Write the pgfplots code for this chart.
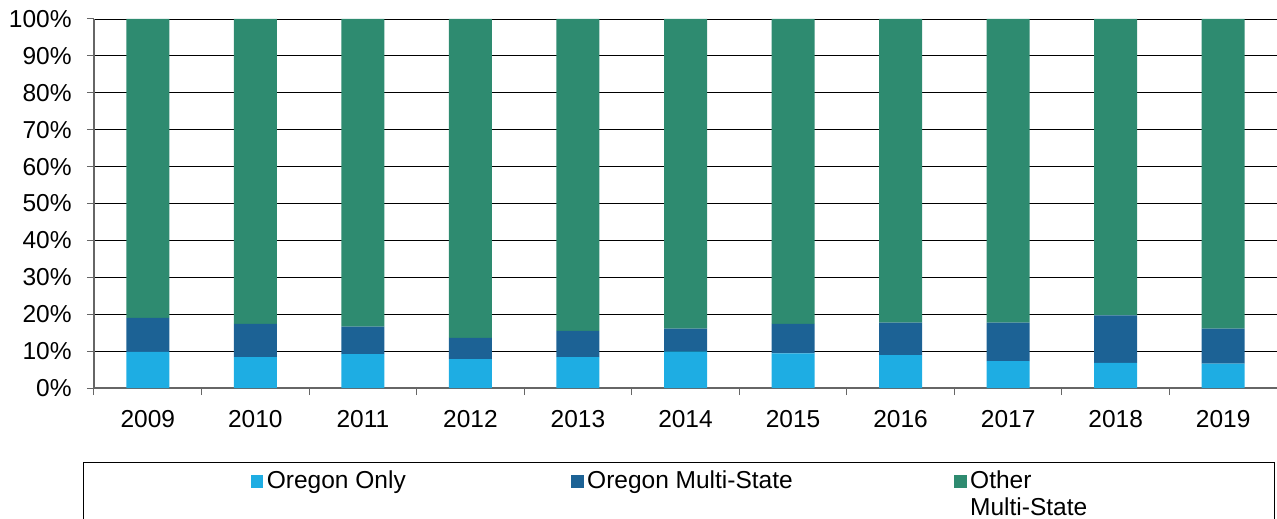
\documentclass[border=0pt]{standalone}
\usepackage{pgfplots}
\pgfplotsset{compat=1.18}
\usepackage{fontspec}
\setmainfont{Liberation Sans}
\definecolor{c1}{HTML}{1EADE3}
\definecolor{c2}{HTML}{1C6295}
\definecolor{c3}{HTML}{2E8B70}
\pgfplotstableread{
x light dark other
0 9.8 9.2 81.0
1 8.4 9.0 82.6
2 9.2 7.4 83.4
3 7.8 5.8 86.4
4 8.4 7.1 84.5
5 9.9 6.2 83.9
6 9.4 8.0 82.6
7 8.9 8.8 82.3
8 7.3 10.4 82.3
9 6.8 12.9 80.3
10 6.6 9.5 83.9
}\datatable
\begin{document}
\fontsize{24.5bp}{27bp}\selectfont
\begin{tikzpicture}
\begin{axis}[
  name=ax,
  scale only axis,
  width=1183bp, height=369bp,
  ybar stacked,
  bar width=43bp,
  xmin=-0.5, xmax=10.5,
  ymin=0, ymax=100,
  axis x line=bottom, axis y line=left,
  axis line style={-, draw=black!60, line width=1.5bp},
  xtick={-0.5,0.5,...,10.5},
  xticklabels={},
  extra x ticks={0,1,...,10},
  extra x tick labels={2009,2010,2011,2012,2013,2014,2015,2016,2017,2018,2019},
  extra x tick style={major tick length=0pt, grid=none, xticklabel style={yshift=-14bp}},
  ytick={0,10,...,100},
  yticklabel={\pgfmathprintnumber[assume math mode=true]{\tick}\%},
  yticklabel style={xshift=-7bp},
  major tick length=7bp,
  tick align=outside,
  tick style={draw=black!60, line width=1bp},
  ymajorgrids,
  grid style={draw=black, line width=0.9bp},
  legend columns=3,
  legend image code/.code={\fill[#1] (0bp,0.5bp) rectangle (12.5bp,13bp);},
  legend style={at={(-0.0093,-0.2005)}, anchor=north west,
    draw=black, line width=0.8bp,
    inner xsep=167.5bp, inner ysep=7bp,
    nodes={inner sep=0pt, text depth=45bp},
    cells={anchor=base west},
    /tikz/every odd column/.style={column sep=3.5bp},
    /tikz/every even column/.style={column sep=0pt}},
]
\addplot[fill=c1, draw=none] table[x=x, y=light] {\datatable};
\addlegendentry{\makebox[304.3bp][l]{Oregon Only}}
\addplot[fill=c2, draw=none] table[x=x, y=dark] {\datatable};
\addlegendentry{\makebox[367bp][l]{Oregon Multi-State}}
\addplot[fill=c3, draw=none] table[x=x, y=other] {\datatable};
\addlegendentry{\makebox[137bp][l]{\begin{tabular}[t]{@{}l@{}}Other\\Multi-State\end{tabular}}}
\end{axis}
\pgfresetboundingbox
\path[use as bounding box] ([xshift=-94bp,yshift=-131bp]ax.south west) rectangle ([yshift=19bp]ax.north east);
\end{tikzpicture}
\end{document}
